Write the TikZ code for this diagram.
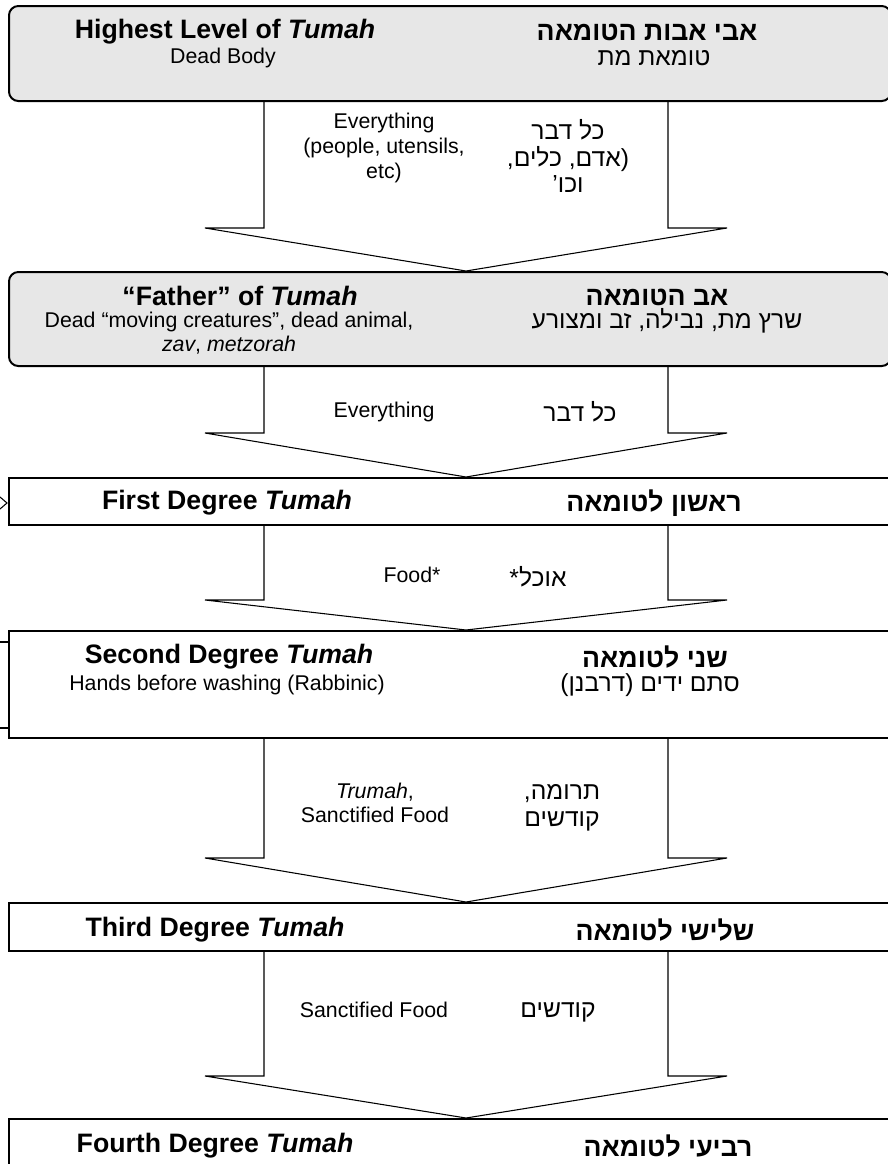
\documentclass[tikz,border=0pt]{standalone}
\usepackage{fontspec}
\setmainfont{Liberation Sans}
\newfontfamily\hebfont[Script=Hebrew]{Liberation Sans}
\TeXXeTstate=1
\usetikzlibrary{calc,positioning}
\definecolor{lvlgray}{HTML}{E7E7E7}
\newcommand{\heb}[1]{{\hebfont\beginR #1\endR}}
\newcommand{\tumah}{\textit{Tumah}}

\tikzset{
  lvlbox/.style={draw, line width=1.5pt, anchor=north west, minimum width=900*0.75pt, inner sep=0pt},
  lvlround/.style={lvlbox, fill=lvlgray, rounded corners=7pt, minimum width=882*0.75pt},
  engtitle/.style={font=\fontsize{20}{23}\selectfont\bfseries, inner sep=0pt},
  engtext/.style={font=\fontsize{16}{18.5}\selectfont, align=center, inner sep=0pt},
  hebtitle/.style={font=\fontsize{20}{23}\selectfont\bfseries, inner sep=0pt},
  hebtext/.style={font=\fontsize{18.5}{20}\selectfont, align=center, inner sep=0pt},
  blockarrow/.style={draw, line width=0.8pt},
}

% block arrow from one level down to the next
\newcommand{\tumaharrow}[3]{%
  \draw[blockarrow] (264,0 |- #1.south) -- ($(264,0 |- #2.north)+(0,-#3)$)
    -- ($(205,0 |- #2.north)+(0,-#3)$) -- (466,0 |- #2.north)
    -- ($(727,0 |- #2.north)+(0,-#3)$) -- ($(668,0 |- #2.north)+(0,-#3)$)
    -- (668,0 |- #1.south);}

\begin{document}
\begin{tikzpicture}[x=0.75pt,y=-0.75pt]
  \useasboundingbox (0,0) rectangle (888,1164);
  \clip (0,0) rectangle (888,1164);

  % levels
  \node[lvlround, minimum height=95*0.75pt] (b1) at (8,5) {};
  \node[lvlround, minimum height=94*0.75pt] (b2) at (8,271) {};
  \node[lvlbox, minimum height=47*0.75pt] (b3) at (8,477) {};
  \node[lvlbox, minimum height=107*0.75pt] (b4) at (8,630) {};
  \node[lvlbox, minimum height=48*0.75pt] (b5) at (8,902) {};
  \node[lvlbox, minimum height=80*0.75pt] (b6) at (8,1118) {};

  % arrows
  \tumaharrow{b1}{b2}{43}
  \tumaharrow{b2}{b3}{44}
  \tumaharrow{b3}{b4}{30}
  \tumaharrow{b4}{b5}{44}
  \tumaharrow{b5}{b6}{42}

  % bits of cut off shapes at the left edge
  \draw[line width=0.8pt] (0,497) -- (7,503) -- (0,509);
  \draw[line width=0.8pt] (0,642) -- (8,642);
  \draw[line width=0.8pt] (0,728) -- (8,728);

  % level 1
  \node[engtitle] (t1e) at (225,32) {Highest Level of \tumah};
  \node[engtext] (s1e) at (223,58) {Dead Body};
  \node[hebtitle] (t1h) at (647,32) {\heb{אבי אבות הטומאה}};
  \node[hebtext] (s1h) at (654,58) {\heb{טומאת מת}};
  \node[engtext] (a1e) at (384,148) {Everything\\(people, utensils,\\etc)};
  \node[hebtext] (a1h) at (568,156) {\heb{כל דבר}\\\heb{(אדם, כלים,}\\\heb{וכו’}};

  % level 2
  \node[engtitle] (t2e) at (240,296) {“Father” of \tumah};
  \node[engtext] (s2e) at (229,333) {Dead “moving creatures”, dead animal,\\\textit{zav}, \textit{metzorah}};
  \node[hebtitle] (t2h) at (657,297) {\heb{אב הטומאה}};
  \node[hebtext] (s2h) at (667,321) {\heb{שרץ מת, נבילה, זב ומצורע}};
  \node[engtext] (a2e) at (384,412) {Everything};
  \node[hebtext] (a2h) at (580,412) {\heb{כל דבר}};

  % level 3
  \node[engtitle] (t3e) at (227,503) {First Degree \tumah};
  \node[hebtitle] (t3h) at (654,503) {\heb{ראשון לטומאה}};
  \node[engtext] (a3e) at (412,575) {Food*};
  \node[hebtext] (a3h) at (538,577) {\heb{אוכל*}};

  % level 4
  \node[engtitle] (t4e) at (229,657) {Second Degree \tumah};
  \node[engtext] (s4e) at (227,685) {Hands before washing (Rabbinic)};
  \node[hebtitle] (t4h) at (655,657) {\heb{שני לטומאה}};
  \node[hebtext] (s4h) at (650,685) {\heb{סתם ידים (דרבנן)}};
  \node[engtext] (a4e) at (375,803) {\textit{Trumah},\\Sanctified Food};
  \node[hebtext] (a4h) at (562,808) {\heb{תרומה,}\\\heb{קודשים}};

  % level 5
  \node[engtitle] (t5e) at (215,930) {Third Degree \tumah};
  \node[hebtitle] (t5h) at (665,930) {\heb{שלישי לטומאה}};
  \node[engtext] (a5e) at (374,1010) {Sanctified Food};
  \node[hebtext] (a5h) at (558,1012) {\heb{קודשים}};

  % level 6
  \node[engtitle] (t6e) at (215,1146) {Fourth Degree \tumah};
  \node[hebtitle] (t6h) at (668,1146) {\heb{רביעי לטומאה}};
\end{tikzpicture}
\end{document}
